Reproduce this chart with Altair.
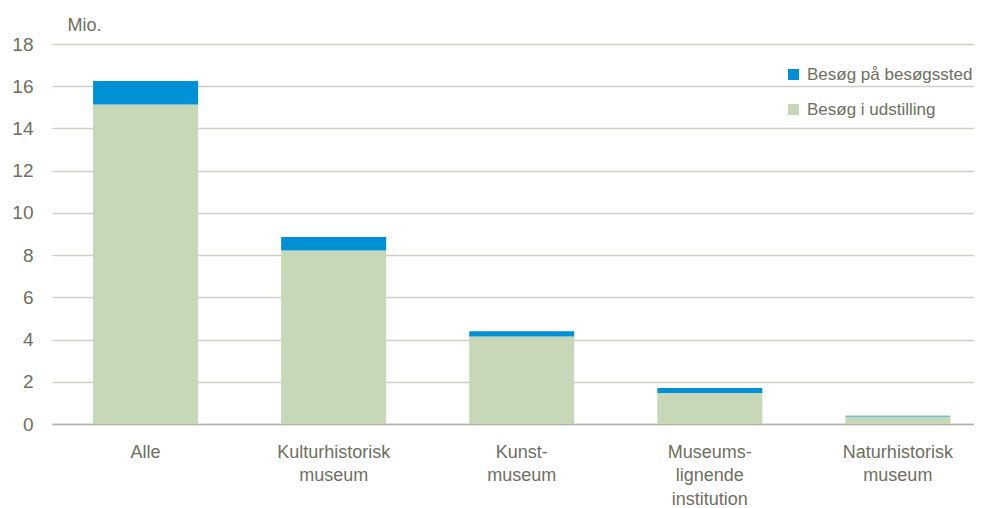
import altair as alt
import pandas as pd

categories = ["Alle", "Kulturhistorisk|museum", "Kunst-|museum",
              "Museums-|lignende|institution", "Naturhistorisk|museum"]
udstilling = [15.13, 8.22, 4.15, 1.47, 0.36]
besoegssted = [1.12, 0.64, 0.24, 0.23, 0.03]
series = ["Besøg på besøgssted", "Besøg i udstilling"]
colors = ["#0090D5", "#C6D8B8"]
y_ticks = [0, 2, 4, 6, 8, 10, 12, 14, 16, 18]

rows = []
for c, g, b in zip(categories, udstilling, besoegssted):
    rows.append({"kategori": c, "serie": series[1], "vaerdi": g, "orden": 0})
    rows.append({"kategori": c, "serie": series[0], "vaerdi": b, "orden": 1})
df = pd.DataFrame(rows)

FONT = "Liberation Sans, Arial"
TXT = "#6E6F60"
FS = 18

chart = alt.Chart(df).mark_bar().encode(
    x=alt.X("kategori:N", sort=categories, title=None,
            scale=alt.Scale(paddingInner=0.4415, paddingOuter=0.172, align=0.635),
            axis=alt.Axis(labelExpr="split(datum.label, '|')", labelAngle=0,
                          labelBaseline="top", labelLineHeight=23.5,
                          labelPadding=19, tickSize=0, ticks=False,
                          domain=True, domainColor="#B4B4A4", domainWidth=1.5,
                          labelFontSize=FS, labelFont=FONT, labelColor=TXT)),
    y=alt.Y("vaerdi:Q", stack="zero",
            scale=alt.Scale(domain=[0, 18], nice=False),
            axis=alt.Axis(values=y_ticks, title="Mio.", titleAngle=0,
                          titleX=15, titleY=-14, titleAlign="left",
                          titleBaseline="alphabetic", titleFontWeight="normal",
                          titleFontSize=FS, titleFont=FONT, titleColor=TXT,
                          labelFontSize=19, labelFont=FONT, labelColor=TXT,
                          labelPadding=19, tickSize=0, ticks=False, domain=False,
                          grid=True, gridColor="#CFCFC3", gridWidth=1.5)),
    color=alt.Color("serie:N", scale=alt.Scale(domain=series, range=colors),
                    legend=alt.Legend(title=None, orient="none", legendX=733,
                                      legendY=22, symbolType="square",
                                      symbolSize=121, symbolStrokeWidth=0,
                                      labelFontSize=17, labelFont=FONT,
                                      labelColor=TXT, rowPadding=17,
                                      labelOffset=5, padding=0, labelLimit=400)),
    order=alt.Order("orden:Q", sort="ascending"),
).properties(
    width=922, height=380,
    autosize=alt.AutoSizeParams(type="none"),
    padding={"left": 44, "top": 36, "right": 0, "bottom": 84},
).configure_view(stroke=None)

chart.save("out.html", embed_options={"renderer": "svg", "actions": False})
